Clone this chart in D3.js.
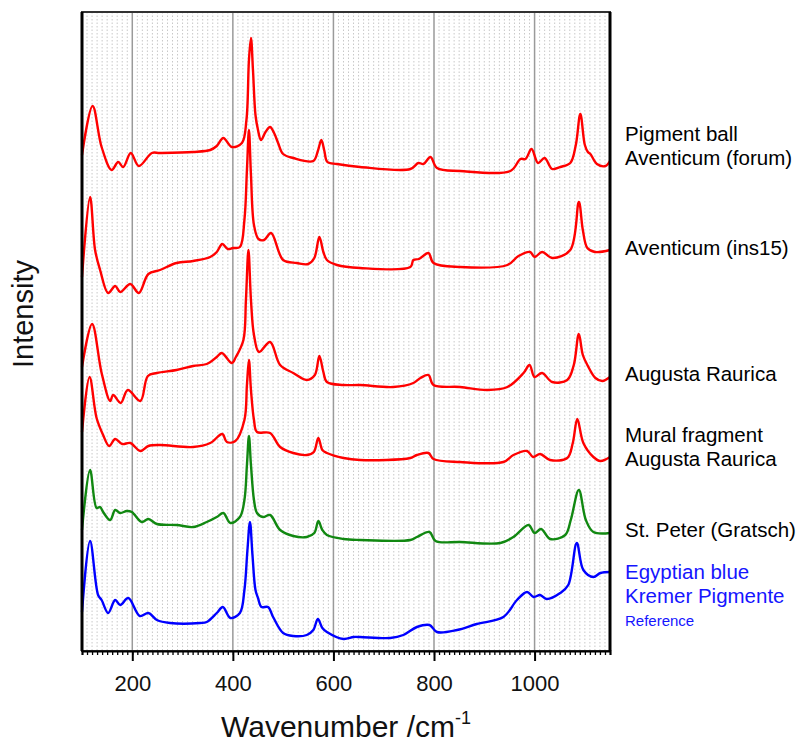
<!DOCTYPE html>
<html>
<head>
<meta charset="utf-8">
<script src="https://cdn.jsdelivr.net/npm/d3@7"></script>
<style>
  html, body { margin: 0; padding: 0; background: #fff; }
  svg { display: block; font-family: 'Liberation Sans', Arial, sans-serif; }
</style>
</head>
<body>
<svg id="chart" width="803" height="742"></svg>
<script>
// spectra: [wavenumber, intensity (offset included)]
const forum = [
  [100, 496], [121, 545], [139, 504], [159, 481], [172, 489], [182, 484], [197, 498],
  [213, 485], [239, 498], [255, 498], [321, 499], [355, 501], [368, 505], [381, 513],
  [398, 504], [418, 508], [427, 531], [432, 591], [436, 613], [440, 581], [445, 536],
  [450, 521], [456, 511], [465, 519], [474, 524], [482, 518], [490, 508], [500, 497],
  [520, 493], [560, 490], [569, 500], [576, 511], [582, 500], [588, 489], [607, 487],
  [653, 484], [753, 482], [769, 488], [779, 487], [793, 494], [806, 483], [852, 480],
  [952, 480], [972, 492], [982, 492], [994, 502], [1007, 488], [1020, 493], [1035, 482],
  [1051, 484], [1071, 488], [1082, 506], [1091, 537], [1100, 506], [1106, 499],
  [1111, 497], [1124, 487], [1141, 485], [1150, 490]
]
const ins15 = [
  [100, 374], [116, 454], [126, 401], [136, 381], [152, 358], [166, 365], [176, 359],
  [196, 367], [213, 358], [232, 377], [255, 381], [288, 388], [321, 390], [355, 394],
  [368, 399], [379, 407], [390, 402], [400, 403], [414, 404], [423, 431], [428, 481],
  [432, 521], [436, 476], [442, 426], [451, 412], [462, 411], [476, 418], [500, 391],
  [527, 388], [550, 387], [562, 393], [572, 414], [580, 399], [587, 391], [607, 386],
  [653, 383], [753, 384], [759, 391], [770, 392], [789, 398], [799, 388], [852, 384],
  [946, 386], [968, 395], [991, 399], [1000, 394], [1015, 399], [1035, 393], [1071, 401],
  [1088, 449], [1096, 421], [1105, 403], [1120, 399], [1150, 401]
]
const augusta = [
  [100, 284], [120, 327], [139, 278], [156, 250], [162, 256], [177, 248], [191, 261],
  [216, 250], [231, 275], [249, 278], [288, 281], [321, 285], [348, 287], [368, 294],
  [378, 298], [398, 288], [406, 294], [421, 311], [426, 351], [431, 401], [436, 351],
  [442, 316], [452, 299], [474, 309], [494, 286], [520, 278], [547, 271], [563, 276],
  [572, 295], [580, 279], [587, 269], [620, 266], [653, 266], [719, 264], [759, 268],
  [773, 273], [789, 276], [799, 266], [852, 264], [906, 261], [946, 264], [978, 278],
  [990, 286], [1000, 274], [1015, 278], [1035, 269], [1065, 271], [1078, 286],
  [1088, 317], [1096, 296], [1105, 286], [1121, 273], [1135, 270], [1150, 274]
]
const mural = [
  [100, 219], [115, 274], [129, 233], [142, 216], [154, 205], [166, 212], [180, 207],
  [196, 208], [216, 200], [232, 205], [255, 206], [321, 204], [355, 208], [379, 217],
  [388, 209], [405, 210], [423, 231], [428, 266], [432, 291], [436, 261], [442, 231],
  [448, 219], [474, 218], [494, 204], [520, 198], [547, 196], [561, 199], [570, 213],
  [578, 201], [587, 198], [620, 193], [653, 191], [753, 193], [766, 196], [789, 198],
  [799, 192], [852, 189], [938, 189], [958, 196], [985, 200], [997, 194], [1011, 197],
  [1031, 191], [1065, 193], [1076, 208], [1085, 232], [1097, 208], [1117, 194],
  [1131, 190], [1150, 194]
]
const stPeter = [
  [100, 121], [116, 181], [129, 143], [136, 144], [142, 139], [156, 131], [166, 141],
  [176, 138], [189, 140], [199, 139], [219, 129], [232, 132], [249, 127], [288, 126],
  [321, 124], [348, 129], [368, 134], [381, 138], [395, 128], [414, 134], [423, 151],
  [428, 186], [432, 215], [436, 186], [442, 151], [448, 138], [460, 134], [474, 136],
  [494, 121], [520, 115], [547, 114], [562, 118], [570, 130], [578, 121], [587, 116],
  [620, 112], [653, 111], [753, 111], [766, 114], [791, 119], [803, 110], [852, 109],
  [932, 108], [958, 114], [988, 126], [1000, 118], [1013, 122], [1031, 112], [1061, 116],
  [1072, 131], [1088, 161], [1102, 131], [1117, 119], [1150, 118]
]
const egyptianBlue = [
  [100, 39], [116, 110], [132, 56], [139, 51], [152, 38], [166, 51], [176, 46], [192, 53],
  [215, 35], [232, 38], [249, 31], [275, 28], [335, 28], [348, 29], [368, 38], [380, 44],
  [395, 33], [414, 38], [423, 61], [429, 101], [434, 129], [439, 96], [445, 61], [450, 53],
  [457, 44], [470, 44], [480, 34], [500, 18], [520, 15], [547, 16], [560, 21], [569, 32],
  [578, 23], [587, 19], [620, 12], [640, 14], [653, 14], [713, 13], [739, 16], [766, 24],
  [791, 26], [806, 19], [846, 21], [885, 27], [938, 34], [965, 51], [985, 59], [998, 54],
  [1011, 56], [1024, 52], [1051, 58], [1067, 66], [1084, 108], [1097, 81], [1117, 74],
  [1131, 78], [1150, 79]
]

const spectra = [forum, ins15, augusta, mural, stPeter, egyptianBlue]
const spectrumColors = ['#ff0000', '#ff0000', '#ff0000', '#ff0000', '#118811', '#0000ff']

// labels on the right, one entry per text line
const labelLines = [
  { text: 'Pigment ball', y: 141, color: '#000', size: 20.5 },
  { text: 'Aventicum (forum)', y: 165, color: '#000', size: 20.5 },
  { text: 'Aventicum (ins15)', y: 255, color: '#000', size: 20.5 },
  { text: 'Augusta Raurica', y: 381, color: '#000', size: 20.5 },
  { text: 'Mural fragment', y: 442, color: '#000', size: 20.5 },
  { text: 'Augusta Raurica', y: 466, color: '#000', size: 20.5 },
  { text: 'St. Peter (Gratsch)', y: 537, color: '#000', size: 20.5 },
  { text: 'Egyptian blue', y: 579, color: '#1515ff', size: 20.5 },
  { text: 'Kremer Pigmente', y: 603, color: '#1515ff', size: 20.5 },
  { text: 'Reference', y: 626, color: '#1515ff', size: 15 }
]

const xTicks = [200, 400, 600, 800, 1000]

const margin = { top: 12, right: 193, bottom: 91, left: 82 }
const svg = d3.select('#chart')
const width = +svg.attr('width') - margin.left - margin.right
const height = +svg.attr('height') - margin.top - margin.bottom

const x = d3.scaleLinear().domain([100, 1150]).range([0, width])
const y = d3.scaleLinear().domain([0, 639]).range([height, 0])

const g = svg.append('g').attr('transform', `translate(${margin.left}, ${margin.top})`)

// minor dotted grid every 10 cm-1
g.append('g')
  .selectAll('line')
  .data(d3.range(110, 1150, 10).filter(d => d % 200 !== 0))
  .enter()
  .append('line')
    .attr('x1', d => x(d)).attr('x2', d => x(d))
    .attr('y1', 0).attr('y2', height)
    .attr('stroke', '#c8c8c8')
    .attr('stroke-width', 1)
    .attr('stroke-dasharray', '1.5,2')

// major grid
g.append('g')
  .selectAll('line')
  .data(xTicks)
  .enter()
  .append('line')
    .attr('x1', d => x(d)).attr('x2', d => x(d))
    .attr('y1', 0).attr('y2', height)
    .attr('stroke', '#9a9a9a')
    .attr('stroke-width', 1.5)

const line = d3.line()
  .x(d => x(d[0]))
  .y(d => y(d[1]))
  .curve(d3.curveCatmullRom.alpha(0.5))

g.append('g')
  .selectAll('path')
  .data(spectra)
  .enter()
  .append('path')
    .attr('fill', 'none')
    .attr('stroke', (d, i) => spectrumColors[i])
    .attr('stroke-width', 2.4)
    .attr('stroke-linejoin', 'round')
    .attr('d', line)

// frame
g.append('rect')
  .attr('x', 0).attr('y', 0)
  .attr('width', width).attr('height', height)
  .attr('fill', 'none')
  .attr('stroke', '#333')
  .attr('stroke-width', 2)
g.append('line')
  .attr('x1', 0).attr('x2', 0).attr('y1', 0).attr('y2', height)
  .attr('stroke', '#000').attr('stroke-width', 3)
g.append('line')
  .attr('x1', width).attr('x2', width).attr('y1', 0).attr('y2', height)
  .attr('stroke', '#000').attr('stroke-width', 3)

// bottom axis: minor ticks then major ticks with labels
const minorAxis = d3.axisBottom(x)
  .tickValues(d3.range(100, 1151, 10))
  .tickSize(4)
  .tickFormat('')
g.append('g')
  .attr('transform', `translate(0, ${height})`)
  .call(minorAxis)
  .call(s => s.select('.domain').attr('stroke', '#000').attr('stroke-width', 2))
  .call(s => s.selectAll('.tick line').attr('stroke', '#000').attr('stroke-width', 1.3))

const xAxis = d3.axisBottom(x)
  .tickValues(xTicks)
  .tickSize(10)
  .tickPadding(14)
  .tickFormat(d3.format('d'))
g.append('g')
  .attr('transform', `translate(0, ${height})`)
  .call(xAxis)
  .call(s => s.select('.domain').remove())
  .call(s => s.selectAll('.tick line').attr('stroke', '#000').attr('stroke-width', 2))
  .call(s => s.selectAll('.tick text')
    .attr('fill', '#111')
    .style('font-size', '22px')
    .style('font-family', "'Liberation Sans', Arial, sans-serif"))

// axis titles
const xTitle = svg.append('text')
  .attr('x', margin.left + width / 2)
  .attr('y', 737)
  .attr('text-anchor', 'middle')
  .style('font-size', '30px')
  .attr('fill', '#111')
xTitle.append('tspan').text('Wavenumber /cm')
xTitle.append('tspan').attr('dy', -13).style('font-size', '18px').text('-1')

svg.append('text')
  .attr('transform', `translate(33, ${margin.top + 302}) rotate(-90)`)
  .attr('text-anchor', 'middle')
  .style('font-size', '29px')
  .attr('fill', '#111')
  .text('Intensity')

// series labels
svg.append('g')
  .selectAll('text')
  .data(labelLines)
  .enter()
  .append('text')
    .attr('x', 625)
    .attr('y', d => d.y)
    .attr('fill', d => d.color)
    .style('font-size', d => d.size + 'px')
    .text(d => d.text)
</script>
</body>
</html>
